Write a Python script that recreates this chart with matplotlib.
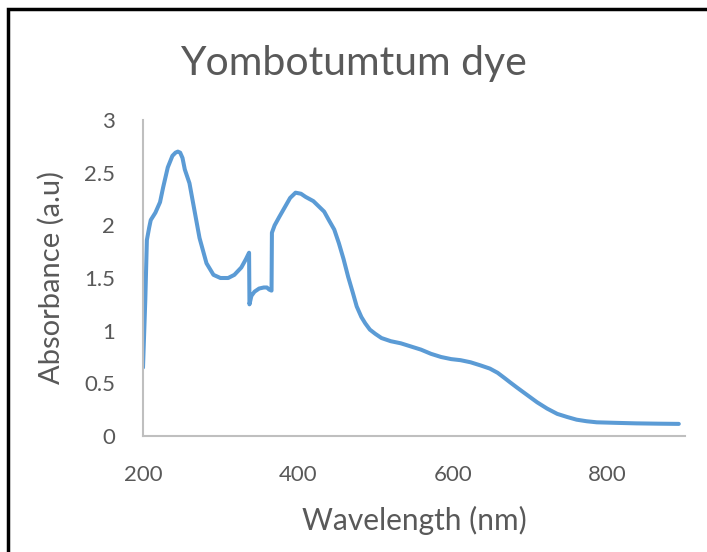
import matplotlib
matplotlib.use("Agg")
import matplotlib.pyplot as plt
from matplotlib.patches import Rectangle

wavelength = [200, 203, 205, 208, 210, 216, 222, 226, 232, 238, 242, 245, 248, 251, 254, 260, 267, 273,
              282, 291, 300, 310, 318, 327, 333, 337, 337.5, 340, 344, 350, 356, 360, 363, 366,
              366.5, 370, 376, 383, 390, 397, 404, 410, 420, 427, 434, 440, 447, 453, 459, 465,
              471, 476, 482, 487, 493, 500, 508, 520, 533, 546, 559, 572, 585, 598, 610, 623,
              636, 648, 658, 667, 674, 683, 696, 709, 722, 735, 748, 760, 773, 786, 810, 837, 865, 892]
absorbance = [0.65, 1.3, 1.86, 1.98, 2.05, 2.12, 2.22, 2.36, 2.55, 2.66, 2.69, 2.70, 2.69, 2.64, 2.53, 2.4, 2.12, 1.88,
              1.64, 1.53, 1.5, 1.5, 1.53, 1.6, 1.68, 1.74, 1.25, 1.33, 1.37, 1.4, 1.41, 1.41, 1.39, 1.38,
              1.93, 2.0, 2.08, 2.17, 2.26, 2.31, 2.3, 2.27, 2.23, 2.18, 2.13, 2.05, 1.96, 1.83, 1.68, 1.51,
              1.36, 1.23, 1.13, 1.07, 1.01, 0.97, 0.93, 0.9, 0.88, 0.85, 0.82, 0.78, 0.75, 0.73, 0.72, 0.7,
              0.67, 0.64, 0.6, 0.55, 0.51, 0.46, 0.39, 0.32, 0.26, 0.21, 0.18, 0.155, 0.14, 0.13, 0.125, 0.12, 0.117, 0.115]
x_ticks = [200, 400, 600, 800]
y_ticks = [0, 0.5, 1, 1.5, 2, 2.5, 3]
y_tick_labels = ["0", "0.5", "1", "1.5", "2", "2.5", "3"]

plt.rcParams['font.family'] = ['Lato', 'DejaVu Sans']
gray = '#595959'
fig = plt.figure(figsize=(7.07, 5.52), dpi=100)
ax = fig.add_axes([143/707, 1-436/552, (685-143)/707, (436-120)/552])

ax.plot(wavelength, absorbance, color='#5b9bd5', lw=2.9, solid_joinstyle='round', solid_capstyle='round')
ax.set_xlim(200, 900)
ax.set_ylim(0, 3)
ax.set_xticks(x_ticks)
ax.set_yticks(y_ticks)
ax.set_yticklabels(y_tick_labels)
ax.tick_params(length=0, labelsize=16, colors=gray)
ax.tick_params(axis='y', pad=20)
ax.tick_params(axis='x', pad=21)
for s in ['top', 'right']:
    ax.spines[s].set_visible(False)
for s in ['left', 'bottom']:
    ax.spines[s].set_color('#bfbfbf')
    ax.spines[s].set_linewidth(1.5)
ax.set_xlabel('Wavelength (nm)', fontsize=21.5, color=gray, labelpad=15)
ax.set_ylabel('Absorbance (a.u)', fontsize=21, color=gray, labelpad=14)
fig.text(353/707, 1-63/552, 'Yombotumtum dye', fontsize=29.5, color=gray, ha='center', va='center')

fig.patches.append(Rectangle((8/707, -0.1), 1.2, 1 - 9/552 + 0.1, transform=fig.transFigure,
                             fill=False, edgecolor='black', lw=2.5))
fig.savefig('out.png', dpi=100)
